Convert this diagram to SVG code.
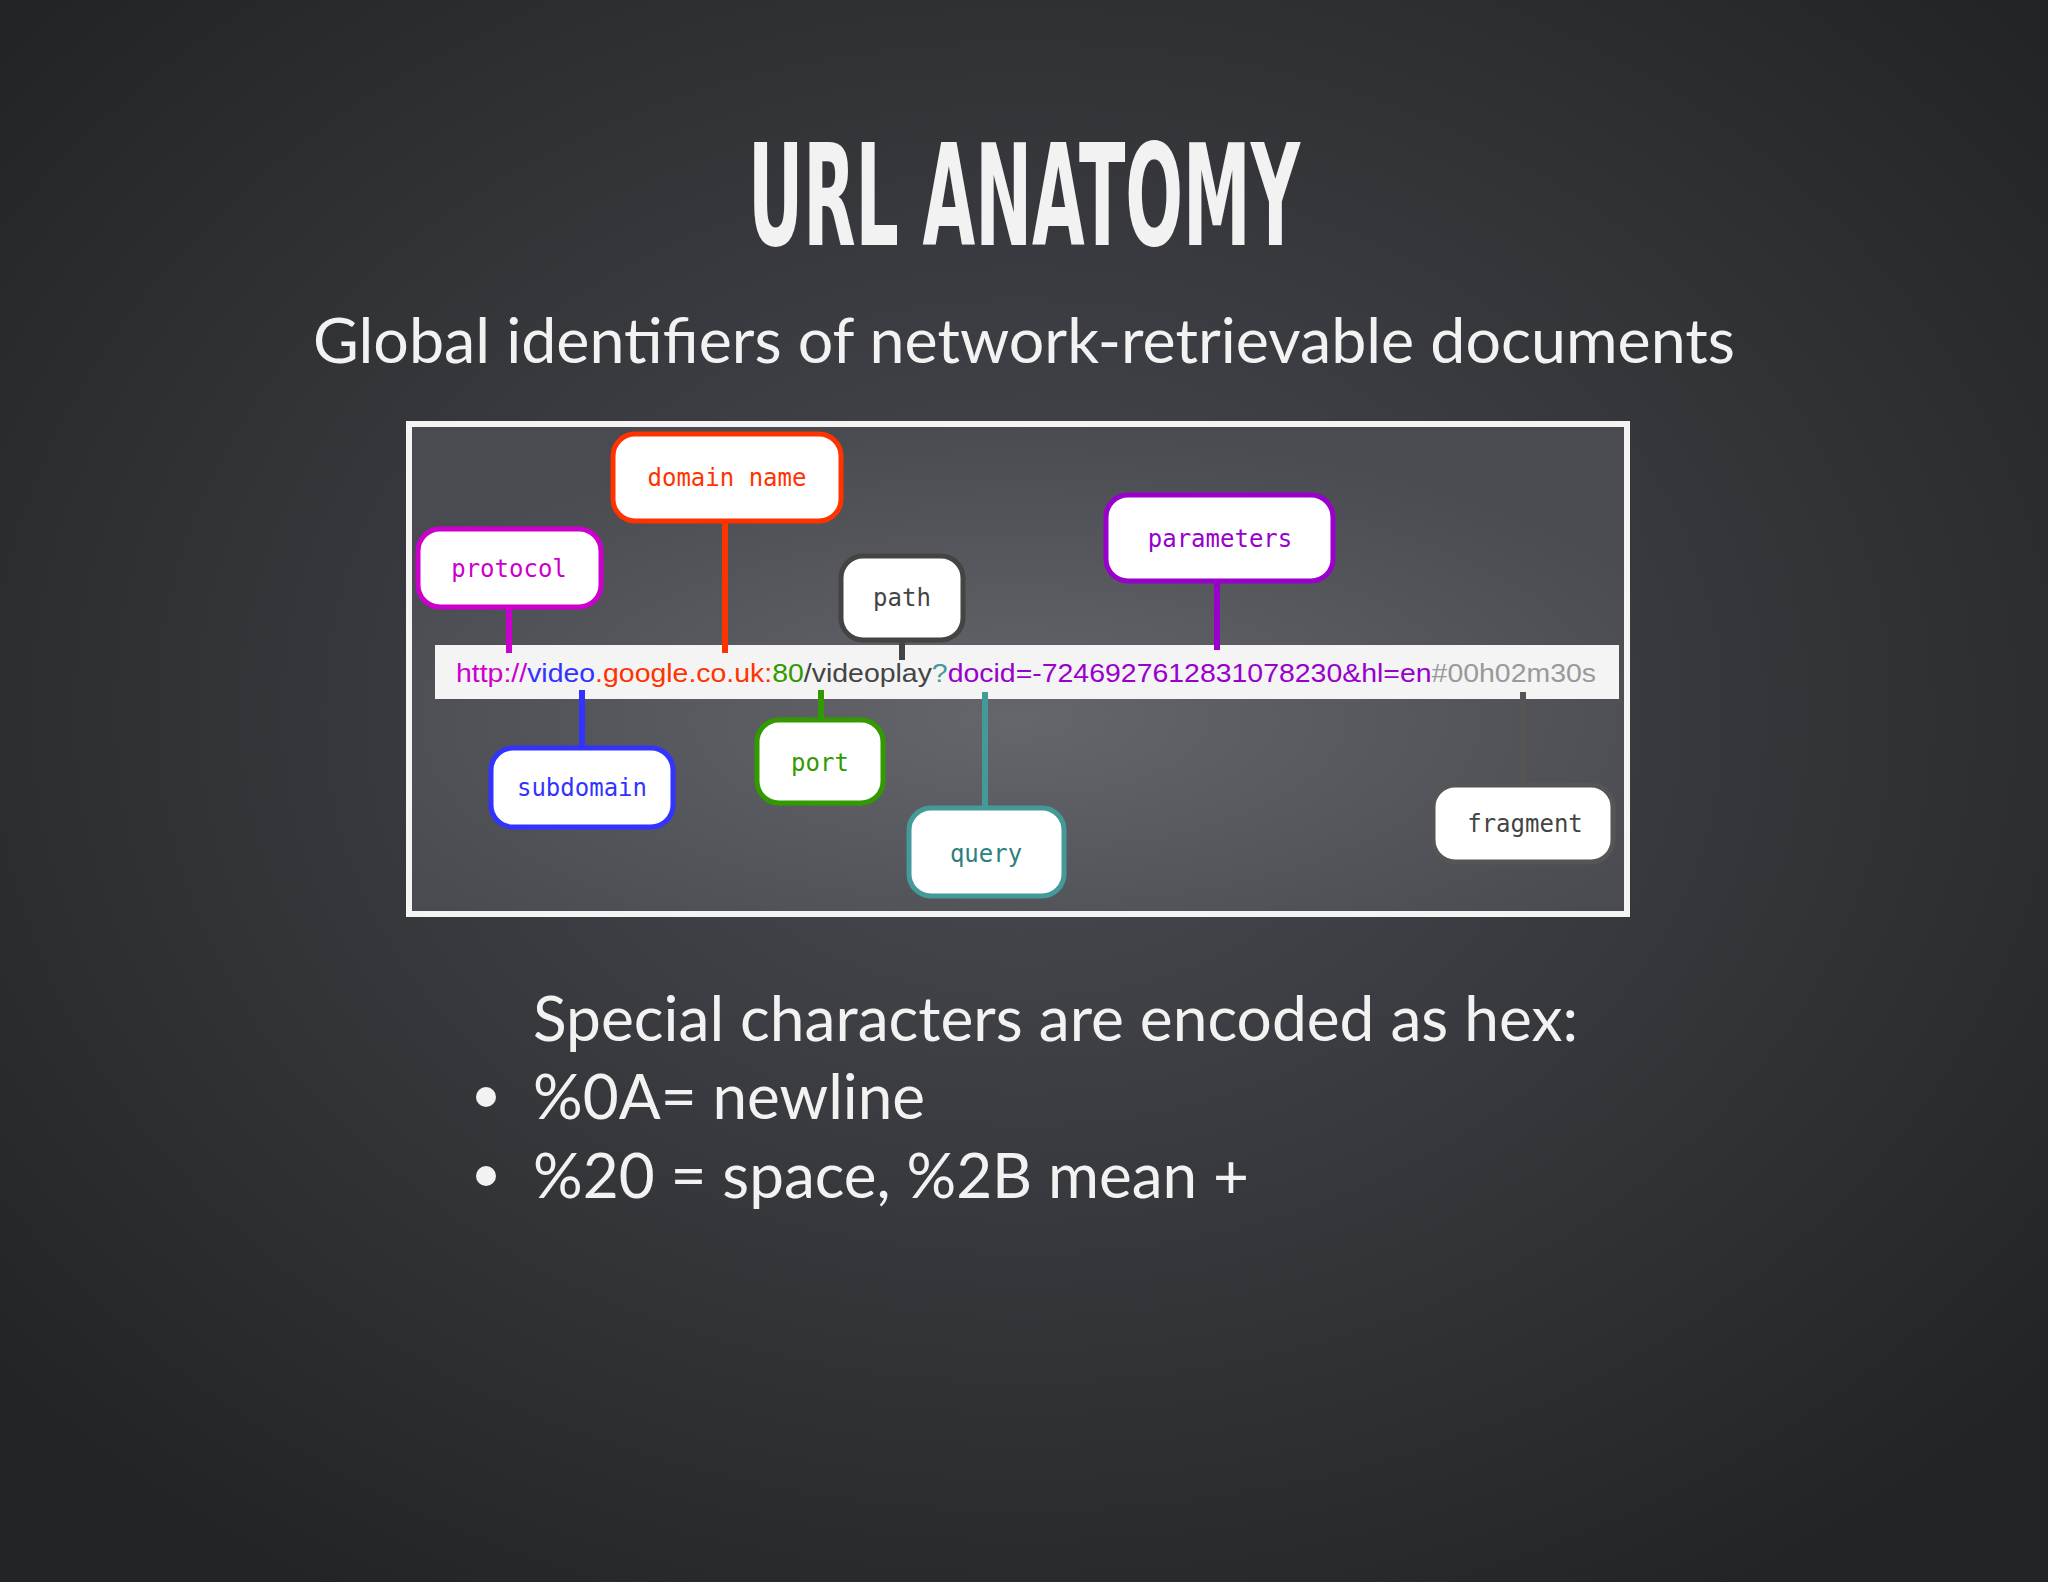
<svg xmlns="http://www.w3.org/2000/svg" width="2048" height="1582" viewBox="0 0 2048 1582">
<defs>
<radialGradient id="bg" cx="50%" cy="45%" r="65%">
<stop offset="0" stop-color="#4a4c52"/><stop offset="1" stop-color="#232427"/>
</radialGradient>
<radialGradient id="fbg" cx="50%" cy="60%" r="60%">
<stop offset="0" stop-color="#64666c"/><stop offset="1" stop-color="#494b50"/>
</radialGradient>
<style>
.lbl{font-family:"DejaVu Sans Mono",monospace;font-size:24px;text-anchor:middle}
.box{fill:#fff;stroke-width:5}
.ln{stroke-width:6;fill:none}
.t{font-family:Lato,"Open Sans",sans-serif;fill:#f2f2f2}
</style>
</defs>
<rect width="2048" height="1582" fill="url(#bg)"/>
<text x="1024" y="245" class="t" style="font-family:'DejaVu Sans Condensed','DejaVu Sans',sans-serif;font-weight:bold;font-size:140px" text-anchor="middle" textLength="552" lengthAdjust="spacingAndGlyphs">URL ANATOMY</text>
<text x="1024" y="363" class="t" font-size="62" text-anchor="middle" textLength="1422" lengthAdjust="spacingAndGlyphs">Global identifiers of network-retrievable documents</text>
<rect x="409" y="424" width="1218" height="490" fill="url(#fbg)" stroke="#f4f4f4" stroke-width="6"/>
<rect x="435" y="645" width="1184" height="54" fill="#f4f4f4"/>
<text x="456" y="682" font-family="'Liberation Sans',sans-serif" font-size="25" textLength="1140" lengthAdjust="spacingAndGlyphs"><tspan fill="#cc00cc">http://</tspan><tspan fill="#3333ff">video</tspan><tspan fill="#ff3300">.google.co.uk</tspan><tspan fill="#ff3300">:</tspan><tspan fill="#339900">80</tspan><tspan fill="#444">/videoplay</tspan><tspan fill="#449999">?</tspan><tspan fill="#9900cc">docid=-7246927612831078230&amp;hl=en</tspan><tspan fill="#999">#00h02m30s</tspan></text>
<g id="connectors">
<line class="ln" x1="725" y1="521" x2="725" y2="653" stroke="#ff3300"/>
<line class="ln" x1="509" y1="607" x2="509" y2="653" stroke="#cc00cc"/>
<line class="ln" x1="902" y1="640" x2="902" y2="660" stroke="#444"/>
<line class="ln" x1="1217" y1="581" x2="1217" y2="650" stroke="#9900cc"/>
<line class="ln" x1="582" y1="690" x2="582" y2="748" stroke="#3333ff"/>
<line class="ln" x1="821" y1="690" x2="821" y2="720" stroke="#339900"/>
<line class="ln" x1="985" y1="692" x2="985" y2="808" stroke="#449999"/>
<line class="ln" x1="1523" y1="692" x2="1523" y2="785" stroke="#555"/>
</g>
<g id="domain"><rect class="box" x="613" y="434" width="228" height="87" rx="22" stroke="#ff3300"/><text class="lbl" x="727" y="486" fill="#ff3300">domain name</text></g>
<g id="protocol"><rect class="box" x="418" y="529" width="183" height="78" rx="22" stroke="#cc00cc"/><text class="lbl" x="509" y="577" fill="#cc00cc">protocol</text></g>
<g id="path"><rect class="box" x="841" y="556" width="122" height="84" rx="22" stroke="#444"/><text class="lbl" x="902" y="606" fill="#444">path</text></g>
<g id="parameters"><rect class="box" x="1106" y="495" width="227" height="86" rx="22" stroke="#9900cc"/><text class="lbl" x="1220" y="547" fill="#9900cc">parameters</text></g>
<g id="subdomain"><rect class="box" x="491" y="748" width="182" height="79" rx="22" stroke="#3333ff"/><text class="lbl" x="582" y="796" fill="#3333ff">subdomain</text></g>
<g id="port"><rect class="box" x="757" y="720" width="126" height="83" rx="22" stroke="#339900"/><text class="lbl" x="820" y="771" fill="#339900">port</text></g>
<g id="query"><rect class="box" x="909" y="808" width="155" height="88" rx="22" stroke="#449999"/><text class="lbl" x="986" y="862" fill="#2e7f7f">query</text></g>
<g id="fragment"><rect class="box" x="1433" y="785" width="180" height="77" rx="22" stroke="#555"/><text class="lbl" x="1525" y="832" fill="#444">fragment</text></g>
<text x="533" y="1041" class="t" font-size="62" textLength="1045" lengthAdjust="spacingAndGlyphs">Special characters are encoded as hex:</text>
<circle cx="486" cy="1097" r="10" fill="#f2f2f2"/>
<text x="533" y="1119" class="t" font-size="62">%0A= newline</text>
<circle cx="486" cy="1176" r="10" fill="#f2f2f2"/>
<text x="533" y="1198" class="t" font-size="62">%20 = space, %2B mean  +</text>
</svg>
